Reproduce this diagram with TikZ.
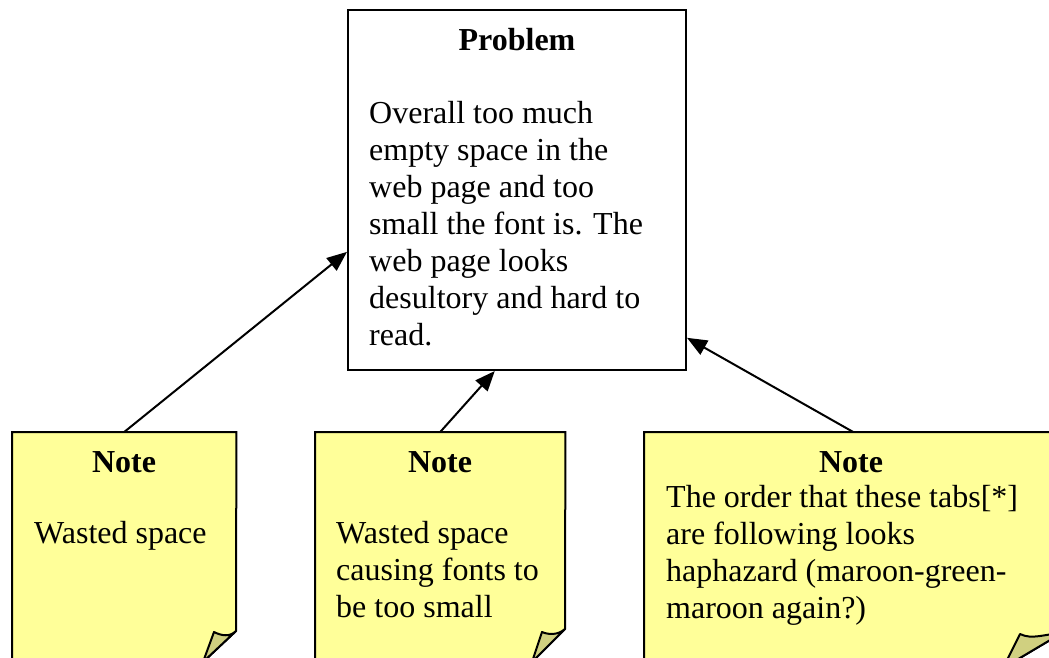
\documentclass[tikz,border=0pt]{standalone}
\usepackage{fontspec}
\setmainfont{Liberation Serif}
\usetikzlibrary{arrows.meta,positioning}
\definecolor{notefill}{RGB}{255,255,153}
\definecolor{flapfill}{RGB}{208,208,128}

\begin{document}
\begin{tikzpicture}[
  x=1pt, y=-1pt,
  font=\fontsize{32}{37}\selectfont,
  box/.style={draw, line width=2pt, minimum width=338pt, minimum height=360pt, inner sep=0pt},
  notearea/.style={anchor=north west, minimum height=230pt, inner sep=0pt},
  sheet/.style={fill=notefill, draw, line width=2pt},
  flap/.style={fill=flapfill, draw, line width=2pt, line join=round},
  title/.style={font=\fontsize{32}{37}\selectfont\bfseries, anchor=base, inner sep=0pt},
  body/.style={anchor=base west, align=left, inner sep=0pt},
  link/.style={-{Triangle[length=20pt,width=16pt]}, line width=2pt}
]

\useasboundingbox (0,0) rectangle (1049,657);
\clip (0,0) rectangle (1049,657);

% Problem (body text sits on the baseline of its last line)
\node[box] (problem) at (517,190) {};
\node[title] (problemtitle) at (517,50) {Problem};
\node[body] (problemtext) at (369,345) {Overall too much\\empty space in the\\web page and too\\small the font is. The\\web page looks\\desultory and hard to\\read.};

% Note 1
\node[notearea, minimum width=224pt] (note1) at (12,432) {};
\draw[sheet] (note1.north west) -- (note1.north east) -- (236,631) -- (203,662) -- (12,662) -- cycle;
\draw[flap] (236,631) .. controls (230,637) and (222,636) .. (214,632) -- (203,662) -- cycle;
\node[title] (note1title) at (124,472) {Note};
\node[body] (note1text) at (34,543) {Wasted space};

% Note 2
\node[notearea, minimum width=250pt] (note2) at (315,432) {};
\draw[sheet] (note2.north west) -- (note2.north east) -- (565,629) -- (532,662) -- (315,662) -- cycle;
\draw[flap] (565,629) .. controls (558,635) and (549,635) .. (542,632) -- (532,662) -- cycle;
\node[title] (note2title) at (440,472) {Note};
\node[body] (note2text) at (336,617) {Wasted space\\causing fonts to\\be too small};

% Note 3
\node[notearea, minimum width=418pt] (note3) at (644,432) {};
\draw[sheet] (note3.north west) -- (note3.north east) -- (1062,633) -- (1003,668) -- (644,668) -- cycle;
\draw[flap] (1062,633) .. controls (1045,634) and (1032,640) .. (1020,634) -- (1003,668) -- cycle;
\node[title] (note3title) at (851,472) {Note};
\node[body] (note3text) at (666,618) {The order that these tabs[*]\\are following looks\\haphazard (maroon-green-\\maroon again?)};

% Links
\draw[link] (note1.north) -- (problem.200);
\draw[link] (note2.north) -- (problem.263);
\draw[link] (note3.north) -- (problem.319);

\end{tikzpicture}
\end{document}
